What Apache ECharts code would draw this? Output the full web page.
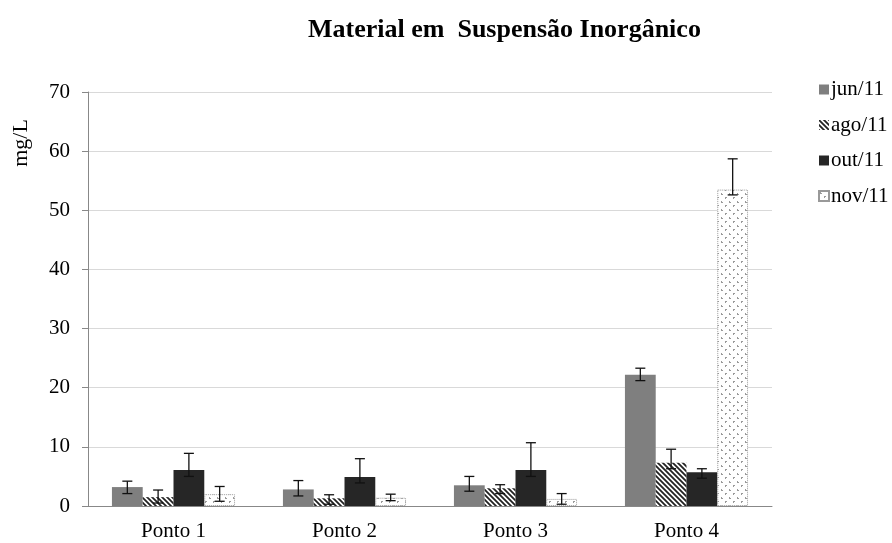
<!DOCTYPE html>
<html><head><meta charset="utf-8">
<script src="https://cdn.jsdelivr.net/npm/echarts@6/dist/echarts.min.js"></script>
<style>html,body{margin:0;padding:0;background:#fff}#c{width:892px;height:543px}</style>
</head><body><div id="c"></div>
<script>
const categories = ['Ponto 1', 'Ponto 2', 'Ponto 3', 'Ponto 4'];
const seriesNames = ['jun/11', 'ago/11', 'out/11', 'nov/11'];
const jun = [3.2, 2.8, 3.5, 22.2];
const ago = [1.5, 1.3, 3.0, 7.3];
const out = [6.1, 4.9, 6.1, 5.7];
const nov = [2.0, 1.4, 1.2, 53.5];
const junLow = [2.1, 1.7, 2.5, 21.2], junHigh = [4.2, 4.3, 5.0, 23.3];
const agoLow = [0.5, 0.3, 2.1, 6.3], agoHigh = [2.7, 1.9, 3.6, 9.6];
const outLow = [5.0, 3.9, 5.0, 4.7], outHigh = [8.9, 8.0, 10.7, 6.3];
const novLow = [0.8, 0.9, 0.3, 52.6], novHigh = [3.3, 2.0, 2.1, 58.7];
const yTicks = [0, 10, 20, 30, 40, 50, 60, 70];

function stripePattern() {
  const c = document.createElement('canvas'); c.width = 5; c.height = 5;
  const g = c.getContext('2d');
  g.fillStyle = '#fff'; g.fillRect(0, 0, 5, 5);
  g.strokeStyle = '#222'; g.lineWidth = 1.8;
  g.beginPath();
  g.moveTo(-1, -1); g.lineTo(6, 6);
  g.moveTo(-4, 1); g.lineTo(4, 9);
  g.moveTo(1, -4); g.lineTo(9, 4);
  g.stroke();
  return c;
}
function dotPattern() {
  const c = document.createElement('canvas'); c.width = 8; c.height = 8;
  const g = c.getContext('2d');
  g.fillStyle = '#fff'; g.fillRect(0, 0, 8, 8);
  g.fillStyle = '#9a9a9a';
  g.fillRect(1, 1, 1, 2); g.fillRect(2, 2, 1, 1);
  g.fillRect(5, 5, 1, 2); g.fillRect(6, 5, 1, 1);
  return c;
}
const colors = ['#7f7f7f', {image: stripePattern(), repeat: 'repeat'}, '#262626', {image: dotPattern(), repeat: 'repeat'}];
const vals = [jun, ago, out, nov];
const lows = [junLow, agoLow, outLow, novLow];
const highs = [junHigh, agoHigh, outHigh, novHigh];

const series = [];
vals.forEach((v, i) => {
  series.push({
    name: seriesNames[i], type: 'bar', data: v,
    barGap: '0%', barCategoryGap: '28%',
    itemStyle: {color: colors[i], borderColor: i === 3 ? '#999' : null, borderWidth: i === 3 ? 1 : 0, borderType: 'dotted'},
    emphasis: {disabled: true}
  });
});
vals.forEach((v, i) => {
  series.push({
    name: 'err' + i, type: 'custom', z: 10,
    data: categories.map((c, k) => [k, lows[i][k], highs[i][k]]),
    renderItem: function (params, api) {
      const x = api.value(0);
      const lo = api.coord([x, api.value(1)]);
      const hi = api.coord([x, api.value(2)]);
      const bw = api.size([1, 0])[0];
      const px = lo[0] + (i - 1.5) * 0.18 * bw;
      const h = 5;
      const st = {stroke: '#111', lineWidth: 1.3};
      return {type: 'group', children: [
        {type: 'line', shape: {x1: px, y1: lo[1], x2: px, y2: hi[1]}, style: st},
        {type: 'line', shape: {x1: px - h, y1: lo[1], x2: px + h, y2: lo[1]}, style: st},
        {type: 'line', shape: {x1: px - h, y1: hi[1], x2: px + h, y2: hi[1]}, style: st}
      ]};
    }
  });
});

const chart = echarts.init(document.getElementById('c'));
chart.setOption({
  animation: false,
  backgroundColor: '#fff',
  textStyle: {fontFamily: 'Liberation Serif'},
  title: {text: 'Material em  Suspensão Inorgânico', left: 308, top: 17, padding: 0,
    textStyle: {fontFamily: 'Liberation Serif', fontWeight: 'bold', fontSize: 26, color: '#000'}},
  legend: {orient: 'vertical', left: 818, top: 79, padding: 0, itemWidth: 10, itemHeight: 10, itemGap: 14.5,
    data: seriesNames, icon: 'rect',
    textStyle: {fontFamily: 'Liberation Serif', fontSize: 21, color: '#000', padding: [0, 0, 0, -3]}},
  grid: {left: 88, right: 120, top: 92, bottom: 37, containLabel: false},
  xAxis: {type: 'category', data: categories,
    axisLine: {lineStyle: {color: '#888'}}, axisTick: {show: false},
    axisLabel: {fontFamily: 'Liberation Serif', fontSize: 21, color: '#000', margin: 15}},
  yAxis: {type: 'value', min: yTicks[0], max: yTicks[yTicks.length - 1], interval: 10,
    axisLine: {show: true, lineStyle: {color: '#888'}},
    axisTick: {show: true, length: 6, lineStyle: {color: '#888'}},
    axisLabel: {fontFamily: 'Liberation Serif', fontSize: 21, color: '#000', margin: 18},
    splitLine: {lineStyle: {color: '#d9d9d9'}}},
  graphic: [{type: 'text', x: 21, y: 143, rotation: Math.PI / 2,
    style: {text: 'mg/L', font: '22px "Liberation Serif"', fill: '#000', align: 'center', verticalAlign: 'middle'}}],
  series: series
});
</script></body></html>
